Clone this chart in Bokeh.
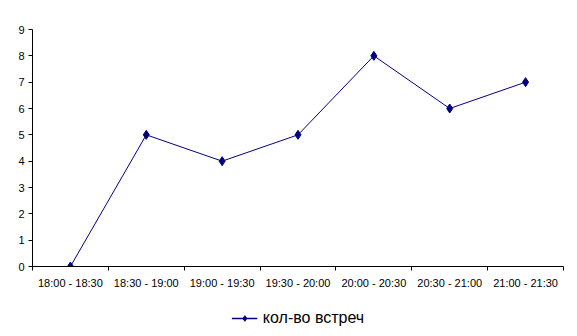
from bokeh.plotting import figure
from bokeh.models import FixedTicker, Range1d, Legend, LegendItem, LinearAxis
from bokeh.layouts import column
from bokeh.embed import file_html
from bokeh.resources import INLINE

categories = ["18:00 - 18:30", "18:30 - 19:00", "19:00 - 19:30", "19:30 - 20:00",
              "20:00 - 20:30", "20:30 - 21:00", "21:00 - 21:30"]
values = [0, 5, 4, 5, 8, 6, 7]
series_name = "кол-во встреч"
y_ticks = list(range(0, 10))

xs = [i + 0.5 for i in range(len(categories))]
line_color = "#000080"
font = "Liberation Sans"

p = figure(width=577, height=300, output_backend="svg", toolbar_location=None,
           x_range=Range1d(0, len(categories)), y_range=Range1d(0, 9),
           x_axis_location=None, y_axis_location=None)
p.min_border_left = 32
p.min_border_right = 14
p.min_border_top = 29
p.min_border_bottom = 34
p.outline_line_color = None
p.xgrid.visible = False
p.ygrid.visible = False
p.background_fill_color = "white"
p.border_fill_color = "white"

yaxis = LinearAxis(ticker=FixedTicker(ticks=y_ticks))
yaxis.axis_line_color = "black"
yaxis.major_tick_line_color = "black"
yaxis.major_tick_out = 4
yaxis.major_tick_in = 0
yaxis.minor_tick_line_color = None
yaxis.major_label_text_font = font
yaxis.major_label_text_font_size = "11px"
yaxis.major_label_text_color = "black"
yaxis.major_label_standoff = 4
p.add_layout(yaxis, "left")

xaxis = LinearAxis(ticker=FixedTicker(ticks=xs, minor_ticks=list(range(len(categories) + 1))))
xaxis.major_label_overrides = {x: c for x, c in zip(xs, categories)}
xaxis.axis_line_color = "black"
xaxis.major_tick_line_color = None
xaxis.major_tick_out = 0
xaxis.major_tick_in = 0
xaxis.minor_tick_line_color = "black"
xaxis.minor_tick_out = 4
xaxis.minor_tick_in = 0
xaxis.major_label_text_font = font
xaxis.major_label_text_font_size = "11px"
xaxis.major_label_text_color = "black"
xaxis.major_label_standoff = 6
p.add_layout(xaxis, "below")

p.line(xs, values, line_color=line_color, line_width=1)
p.scatter(xs, values, marker="diamond", size=9, fill_color=line_color, line_color=line_color)

# legend strip below the chart (its renderers hold the series but lie outside the strip's view)
lf = figure(width=577, height=36, output_backend="svg", toolbar_location=None,
            x_axis_location=None, y_axis_location=None,
            x_range=Range1d(100, 101), y_range=Range1d(100, 101))
lf.min_border = 0
lf.outline_line_color = None
lf.xgrid.visible = False
lf.ygrid.visible = False
lf.border_fill_color = "white"
lf.background_fill_color = "white"
lln = lf.line(xs, values, line_color=line_color, line_width=1.5)
lsc = lf.scatter(xs, values, marker="diamond", size=8, fill_color=line_color, line_color=line_color)
legend = Legend(items=[LegendItem(label=series_name, renderers=[lln, lsc])],
                location="center", orientation="horizontal",
                label_text_font=font, label_text_font_size="16px",
                label_text_color="black", border_line_color=None,
                background_fill_alpha=0, glyph_width=26, glyph_height=14,
                label_standoff=6, padding=2, margin=0)
lf.add_layout(legend, "center")

layout = column(p, lf, spacing=0)
open("out.html", "w").write(file_html(layout, INLINE))
